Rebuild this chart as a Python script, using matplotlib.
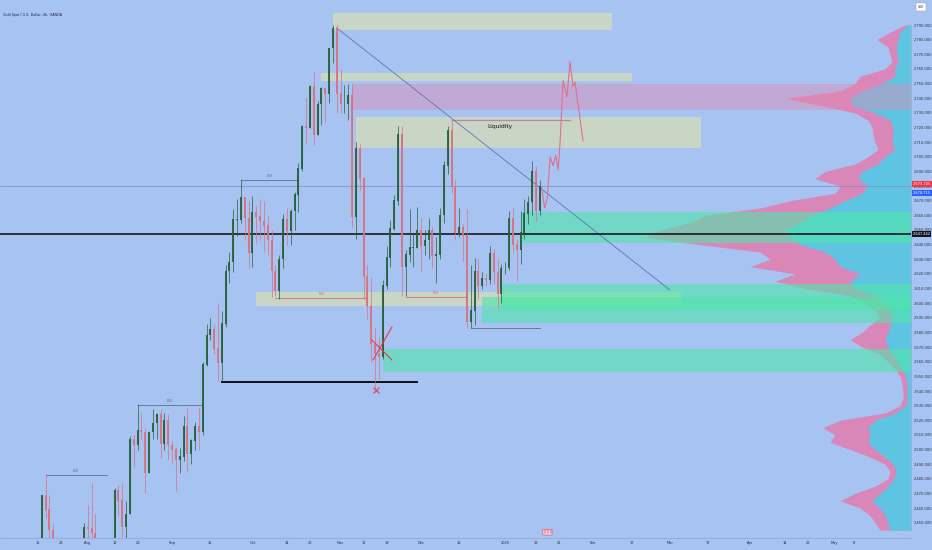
import numpy as np
import matplotlib
matplotlib.use('Agg')
import matplotlib.pyplot as plt
from matplotlib.transforms import blended_transform_factory

BG = '#a7c3f1'
START = '2024-07-15'

# daily candles from 15 Jul 2024 (open of each bar = previous close)
first_open = 2412
highs = [2440, 2469, 2483, 2469, 2449, 2412, 2412, 2431, 2430, 2390,
         2395, 2413, 2450, 2462, 2477, 2456, 2418, 2404, 2430, 2436,
         2474, 2476, 2477, 2465, 2509, 2510, 2531, 2526, 2515, 2513,
         2528, 2525, 2528, 2525, 2524, 2506, 2502, 2501, 2523, 2529,
         2507, 2519, 2529, 2560, 2586, 2590, 2586, 2600, 2595, 2626,
         2635, 2664, 2671, 2685, 2672, 2670, 2673, 2667, 2671, 2670,
         2660, 2650, 2626, 2633, 2661, 2665, 2664, 2676, 2696, 2722,
         2740, 2749, 2758, 2738, 2748, 2746, 2774, 2790, 2790, 2760,
         2749, 2750, 2750, 2710, 2709, 2686, 2626, 2618, 2583, 2577,
         2616, 2639, 2657, 2674, 2721, 2721, 2636, 2664, 2647, 2666,
         2658, 2650, 2658, 2653, 2645, 2665, 2697, 2721, 2726, 2684,
         2665, 2654, 2664, 2626, 2631, 2630, 2621, 2620, 2639, 2637,
         2630, 2627, 2628, 2663, 2665, 2644, 2663, 2671, 2673, 2697,
         2694, 2684]
lows = [2411, 2422, 2453, 2434, 2393, 2385, 2385, 2405, 2353, 2364,
        2370, 2377, 2408, 2430, 2433, 2364, 2384, 2380, 2380, 2415,
        2430, 2455, 2440, 2431, 2456, 2488, 2500, 2507, 2470, 2484,
        2507, 2507, 2494, 2500, 2493, 2490, 2472, 2484, 2492, 2485,
        2490, 2500, 2500, 2510, 2557, 2575, 2565, 2547, 2547, 2584,
        2614, 2621, 2646, 2655, 2643, 2624, 2625, 2641, 2643, 2635,
        2633, 2604, 2605, 2603, 2624, 2640, 2640, 2650, 2662, 2690,
        2709, 2720, 2708, 2715, 2722, 2723, 2737, 2764, 2730, 2730,
        2730, 2725, 2652, 2644, 2677, 2603, 2589, 2560, 2542, 2548,
        2562, 2610, 2625, 2650, 2667, 2605, 2605, 2628, 2625, 2638,
        2622, 2633, 2630, 2624, 2614, 2630, 2655, 2688, 2675, 2643,
        2645, 2629, 2583, 2583, 2585, 2603, 2610, 2612, 2613, 2613,
        2597, 2600, 2620, 2623, 2634, 2615, 2627, 2644, 2654, 2660,
        2656, 2660]
closes = [2422, 2469, 2459, 2445, 2400, 2396, 2409, 2418, 2364, 2387,
          2384, 2410, 2447, 2446, 2443, 2410, 2390, 2383, 2427, 2431,
          2472, 2465, 2447, 2456, 2507, 2503, 2513, 2512, 2484, 2512,
          2518, 2524, 2504, 2520, 2503, 2500, 2493, 2495, 2516, 2497,
          2506, 2516, 2512, 2558, 2578, 2582, 2569, 2559, 2586, 2622,
          2628, 2657, 2657, 2672, 2658, 2634, 2662, 2659, 2656, 2653,
          2643, 2622, 2608, 2630, 2657, 2649, 2663, 2674, 2692, 2721,
          2720, 2748, 2715, 2736, 2747, 2743, 2774, 2788, 2743, 2736,
          2736, 2742, 2659, 2706, 2685, 2618, 2598, 2572, 2565, 2563,
          2612, 2631, 2651, 2670, 2715, 2625, 2633, 2638, 2638, 2650,
          2639, 2643, 2650, 2632, 2633, 2660, 2694, 2718, 2680, 2648,
          2652, 2646, 2587, 2595, 2622, 2612, 2617, 2616, 2634, 2621,
          2606, 2624, 2624, 2658, 2640, 2636, 2648, 2661, 2669, 2690,
          2663, 2679.745]

last_price = 2679.745
ask_price = 2678.715
level_black = 2647.442

# drawn projection path (bar units, price)
proj_x = [131.5, 132.3, 133.0, 133.7, 134.5, 135.2, 135.8, 136.3, 137.1,
          138.1, 138.9, 139.7, 140.2, 142.3]
proj_y = [2679, 2665, 2672, 2700, 2694, 2701, 2691, 2709, 2752,
          2741, 2765, 2748, 2751, 2711]

# zones: (from date, to date or None = right edge, low, high)
beige_zones = [('2024-10-30', '2025-02-10', 2786.6, 2798.2),
               ('2024-10-25', '2025-02-17', 2751.7, 2757.2),
               ('2024-11-07', '2025-03-13', 2706.0, 2727.2),
               ('2024-10-02', '2025-03-06', 2598.0, 2607.6)]
pink_zones = [('2024-11-06', None, 2731.9, 2749.7)]
green_zones = [('2025-01-07', None, 2641.1, 2662.3),
               ('2024-12-31', None, 2595.3, 2613.1),
               ('2024-12-24', None, 2586.5, 2604.2),
               ('2024-11-18', None, 2553.0, 2568.7)]

# structure lines: (from, to, price, colour, label)
struct_lines = [('2024-07-17', '2024-08-08', 2482.6, '#5c6f8f', 'BOS'),
                ('2024-08-20', '2024-09-12', 2530.4, '#5c6f8f', 'BOS'),
                ('2024-09-26', '2024-10-17', 2684.1, '#5c6f8f', 'BOS'),
                ('2024-12-19', '2025-01-14', 2583.0, '#5c6f8f', ''),
                ('2024-10-09', '2024-11-12', 2603.5, '#d7687c', 'BOS'),
                ('2024-11-26', '2024-12-18', 2604.2, '#d7687c', 'BOS')]
liq_line = ('2024-12-12', '2025-01-24', 2725.1)
low_line = ('2024-09-19', '2024-11-29', 2546.1)
trend = [('2024-10-31', 2788.0), ('2025-03-03', 2609.0)]

# volume profile (price level, total volume, up volume)
vp_levels = np.arange(2445, 2791, 5)
vp_total = [31, 36, 41, 51, 71, 56, 36, 23, 21, 26, 41, 61, 81, 76, 88, 71, 26,
            11, 8, 8, 9, 11, 16, 23, 31, 49, 61, 49, 41, 31, 36, 46, 61, 106,
            136, 116, 161, 141, 151, 211, 266, 251, 221, 206, 151, 121, 76, 71,
            96, 86, 56, 43, 33, 36, 38, 39, 43, 56, 91, 126, 71, 56, 51, 26, 19,
            21, 23, 34, 21, 6]
vp_up = [21, 23, 26, 31, 39, 31, 23, 17, 15, 18, 26, 36, 43, 41, 43, 36, 16,
         5, 4, 4, 4, 5, 9, 14, 18, 23, 26, 23, 21, 18, 21, 26, 33, 56,
         61, 51, 71, 76, 86, 111, 121, 126, 111, 99, 81, 66, 49, 43,
         53, 49, 33, 26, 16, 19, 18, 18, 21, 36, 59, 61, 49, 29, 16, 16, 13,
         14, 15, 13, 11, 4]

tick_dates = ['2024-07-15', '2024-07-23', '2024-08-01', '2024-08-12', '2024-08-20',
              '2024-09-02', '2024-09-16', '2024-10-01', '2024-10-14', '2024-10-22',
              '2024-11-01', '2024-11-11', '2024-11-19', '2024-12-02', '2024-12-16',
              '2025-01-01', '2025-01-13', '2025-01-21', '2025-02-03', '2025-02-17',
              '2025-03-03', '2025-03-17', '2025-04-01', '2025-04-14', '2025-04-22',
              '2025-05-01', '2025-05-08']
tick_labels = ['15', '23', 'Aug', '12', '20', 'Sep', '16', 'Oct', '14', '22', 'Nov',
               '11', '19', 'Dec', '16', '2025', '13', '21', 'Feb', '17', 'Mar', '17',
               'Apr', '14', '22', 'May', '8']


def bidx(d):
    return float(np.busday_count(START, d))


XLIM = (-9.92, 227.94)
YLIM = (2439.6, 2807.1)

plt.rcParams['font.family'] = ['DejaVu Sans']
fig = plt.figure(figsize=(9.32, 5.5), dpi=100, facecolor=BG)
pos = [0, 12 / 550, 911 / 932, 538 / 550]

# volume profile underneath
axv = fig.add_axes(pos, zorder=0)
axv.set_xlim(911, 0)
axv.set_ylim(*YLIM)
axv.axis('off')
axv.fill_betweenx(vp_levels, 0, vp_total, color='#d986b8', lw=0)
axv.fill_betweenx(vp_levels, 0, vp_up, color='#5ec4e2', lw=0)

ax = fig.add_axes(pos, zorder=1)
ax.set_facecolor('none')
ax.set_xlim(*XLIM)
ax.set_ylim(*YLIM)

for d0, d1, lo, hi in beige_zones:
    ax.fill_between([bidx(d0), bidx(d1)], lo, hi, color='#ebe79a', alpha=0.5, lw=0)
for d0, d1, lo, hi in pink_zones:
    ax.fill_between([bidx(d0), XLIM[1]], lo, hi, color='#e08cb4', alpha=0.45, lw=0)
for d0, d1, lo, hi in green_zones:
    ax.fill_between([bidx(d0), XLIM[1]], lo, hi, color='#4fe6aa', alpha=0.6, lw=0)

# horizontal reference lines
ax.axhline(last_price, color='#7b8cc4', lw=0.5, zorder=2)
ax.axhline(level_black, color='#1a1a1a', lw=1.2, zorder=3)
ax.plot([bidx(low_line[0]), bidx(low_line[1])], [low_line[2]] * 2, color='#111111', lw=1.4)

for d0, d1, p, c, lab in struct_lines:
    ax.plot([bidx(d0), bidx(d1)], [p, p], color=c, lw=0.6)
    if lab:
        ax.text((bidx(d0) + bidx(d1)) / 2, p + 1.5, lab, color=c, fontsize=2.2,
                ha='center', va='bottom')
ax.plot([bidx(liq_line[0]), bidx(liq_line[1])], [liq_line[2]] * 2, color='#b58aa6', lw=0.9)
ax.text(bidx('2024-12-30') + 0.5, liq_line[2] - 2.5, 'Liquidity', fontsize=4.2,
        color='#111111', ha='center', va='top')

ax.plot([bidx(trend[0][0]), bidx(trend[1][0])], [trend[0][1], trend[1][1]],
        color='#5d74b8', lw=0.6)

# candles
idx = np.arange(len(closes))
opens = [first_open] + closes[:-1]
for i in idx:
    o, h, l, c = opens[i], highs[i], lows[i], closes[i]
    col = '#275f37' if c >= o else '#d9707f'
    ax.vlines(i, l, h, color=col, lw=0.5, zorder=4)
    ax.vlines(i, min(o, c), max(o, c) + 0.3, color=col, lw=1.3, zorder=4)

# projection
ax.plot(proj_x, proj_y, color='#e0708e', lw=0.8, zorder=5)

# red crosses near the November low
ax.plot([87.2, 92.4], [2574.8, 2561.2], color='#e23b50', lw=0.8, zorder=6)
ax.plot([87.5, 92.4], [2561.2, 2583.7], color='#e23b50', lw=0.8, zorder=6)
ax.plot([bidx('2024-11-14') + 0.3], [2540.7], marker='x', color='#e23b50', ms=4,
        mew=0.8, zorder=6)

# axes styling
for s in ['top', 'left', 'right']:
    ax.spines[s].set_visible(False)
ax.spines['bottom'].set_color('#8ea4cf')
ax.spines['bottom'].set_linewidth(0.5)

ax.yaxis.tick_right()
yt = np.arange(2450, 2791, 10)
ax.set_yticks(yt)
ax.set_yticklabels(['{:,.3f}'.format(v) for v in yt])
ax.tick_params(axis='y', length=0, pad=2, labelsize=2.6, labelcolor='#2b3040')
ax.set_xticks([bidx(d) for d in tick_dates])
ax.set_xticklabels(tick_labels)
ax.tick_params(axis='x', length=0, pad=2.5, labelsize=2.6, labelcolor='#2b3040')

# price tags on the scale (bid tag nudged down so both stay readable)
tr = blended_transform_factory(fig.transFigure, ax.transData)
for p, shown_at, bg in [(last_price, last_price + 1.5, '#f23645'),
                        (ask_price, ask_price - 3.5, '#2962ff'),
                        (level_black, level_black, '#131722')]:
    ax.text(912.5 / 932, shown_at, '{:,.3f}'.format(p), transform=tr, fontsize=2.6,
            color='white', va='center', ha='left', zorder=10, clip_on=False,
            bbox=dict(boxstyle='square,pad=0.25', fc=bg, ec='none'))

fig.text(3 / 932, 1 - 15 / 550, 'Gold Spot / U.S. Dollar, 4h, OANDA', fontsize=2.4,
         color='#1f2440', va='center')
fig.text(921 / 932, 1 - 7 / 550, 'USD', fontsize=2.2, color='#333333', ha='center',
         va='center', bbox=dict(boxstyle='square,pad=0.5', fc='white', ec='#999999', lw=0.3))
ax.text(bidx('2025-01-16'), 2443.5, 'D D D', fontsize=2.0, color='#e0506a', ha='center',
        va='center', zorder=8,
        bbox=dict(boxstyle='round,pad=0.3', fc='#f4c6d0', ec='#e0506a', lw=0.4))

fig.savefig('out.png', dpi=100, facecolor=BG)
